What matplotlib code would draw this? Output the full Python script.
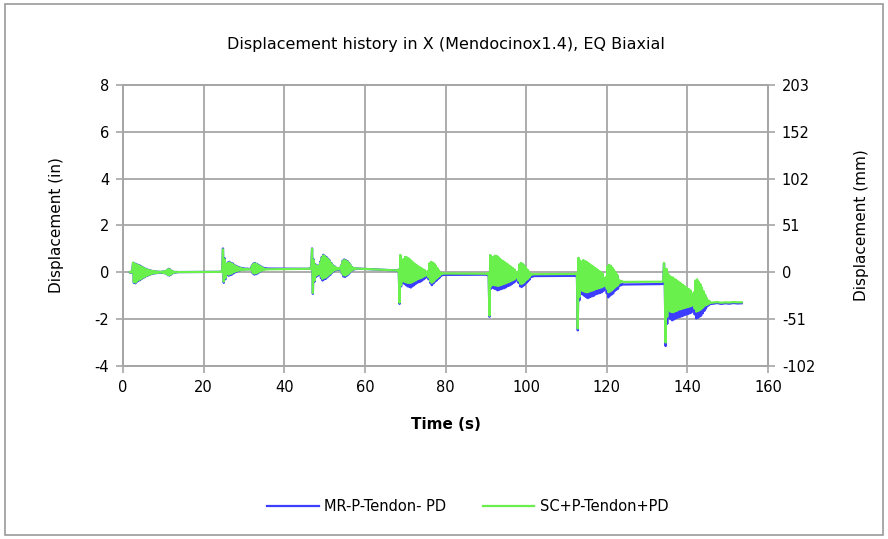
import matplotlib
matplotlib.use("Agg")
import matplotlib.pyplot as plt
from matplotlib.patches import Rectangle

# ---------------- data ----------------
title = "Displacement history in X (Mendocinox1.4), EQ Biaxial"
xlabel = "Time (s)"
ylabel_left = "Displacement (in)"
ylabel_right = "Displacement (mm)"
series_names = ["MR-P-Tendon- PD", "SC+P-Tendon+PD"]

x_ticks = [0, 20, 40, 60, 80, 100, 120, 140, 160]
y_ticks_in = [-4, -2, 0, 2, 4, 6, 8]
y_ticks_mm = [-101.6, -50.8, 0.0, 50.8, 101.6, 152.4, 203.2]
y_ticklabels_mm = ["-102", "-51", "0", "51", "102", "152", "203"]

# start time (s) of each of the seven shake events
event_start = [1.7, 24.0, 46.1, 67.8, 90.1, 112.0, 133.8]

# sample times (s) relative to event start
sample_dt = [0.0, 0.2, 0.4, 0.6, 0.8, 1.0, 1.2, 1.4, 1.6, 1.8, 2.0, 2.2, 2.4, 2.6,
             2.8, 3.0, 3.2, 3.4, 3.6, 3.8, 4.0, 4.2, 4.4, 4.6, 4.8, 5.0, 5.2, 5.4,
             5.6, 5.8, 6.0, 6.2, 6.4, 6.6, 6.8, 7.0, 7.2, 7.4, 7.6, 7.8, 8.0, 8.2,
             8.4, 8.6, 8.8, 9.0, 9.2, 9.4, 9.6, 9.8, 10.0, 10.2, 10.4, 10.6, 10.8,
             11.0, 11.2, 11.4, 11.6, 11.8, 12.0]

# ---- MR-P-Tendon- PD (blue), inches ----
mr_ev1 = [0.00, 0.02, -0.02, 0.05,
          0.40, -0.45, 0.38, -0.47,
          0.36, -0.40, 0.32, -0.36, 0.30, -0.33, 0.26, -0.28, 0.22, -0.24, 0.18, -0.20, 0.15,
          -0.16, 0.12, -0.13, 0.10, -0.10, 0.08, -0.08, 0.06, -0.06, 0.05, -0.05, 0.04, -0.04, 0.03, -0.03, 0.03,
          -0.02, 0.02, -0.02,
          0.03, -0.03, 0.04, -0.04, 0.05, -0.06, 0.10, -0.12, 0.15, -0.14, 0.12, -0.10, 0.06, -0.05, 0.03,
          -0.02, 0.02, -0.01, 0.02, 0.00, 0.01]
mr_ev2 = [0.02, 0.03, 0.02, 0.05,
          1.02, -0.45, 0.60, -0.30,
          0.35, -0.10, 0.42, -0.15, 0.45, -0.12, 0.40, -0.10, 0.38, -0.05, 0.32, 0.00, 0.28,
          0.02, 0.25, 0.05, 0.22, 0.08, 0.20, 0.10, 0.18, 0.12, 0.17, 0.12, 0.16, 0.13, 0.16, 0.13, 0.15,
          0.13, 0.16, 0.12,
          0.30, -0.05, 0.38, -0.10, 0.40, -0.08, 0.36, -0.05, 0.32, 0.00, 0.28, 0.05, 0.24, 0.08, 0.20,
          0.12, 0.18, 0.14, 0.17, 0.15, 0.16]
mr_ev3 = [0.15, 0.17, 0.14, 0.18,
          1.02, -0.92, 0.55, -0.40,
          0.35, -0.20, 0.30, -0.15, 0.28, -0.10, 0.45, -0.25, 0.65, -0.35, 0.75, -0.30, 0.70,
          -0.28, 0.65, -0.22, 0.58, -0.15, 0.50, -0.10, 0.40, -0.02, 0.30, 0.05, 0.25, 0.08, 0.20, 0.10, 0.18,
          0.10, 0.16, 0.12,
          0.30, -0.05, 0.50, -0.18, 0.55, -0.20, 0.52, -0.15, 0.48, -0.10, 0.40, -0.02, 0.30, 0.05, 0.22,
          0.10, 0.18, 0.13, 0.17, 0.14, 0.16]
mr_ev4 = [0.08, 0.10, 0.06, 0.12,
          -1.35, 0.72, -0.60, 0.50,
          -0.45, 0.55, -0.50, 0.65, -0.55, 0.62, -0.60, 0.58, -0.62, 0.52, -0.65, 0.45, -0.60,
          0.38, -0.55, 0.32, -0.50, 0.28, -0.45, 0.22, -0.42, 0.18, -0.40, 0.15, -0.35, 0.10, -0.30, 0.08, -0.25,
          0.00, -0.20, 0.05,
          -0.30, 0.35, -0.45, 0.43, -0.55, 0.40, -0.48, 0.35, -0.40, 0.25, -0.35, 0.15, -0.28, 0.05, -0.22,
          -0.05, -0.15, -0.08, -0.12, -0.09, -0.11]
mr_ev5 = [-0.10, -0.08, -0.12, -0.06,
          -1.90, 0.72, -0.70, 0.60,
          -0.65, 0.65, -0.70, 0.70, -0.72, 0.68, -0.77, 0.62, -0.75, 0.55, -0.72, 0.50, -0.70,
          0.45, -0.68, 0.40, -0.65, 0.35, -0.60, 0.30, -0.58, 0.25, -0.55, 0.20, -0.50, 0.15, -0.45, 0.10, -0.40,
          -0.05, -0.30, -0.02,
          -0.45, 0.30, -0.60, 0.38, -0.63, 0.35, -0.58, 0.28, -0.52, 0.20, -0.45, 0.10, -0.38, 0.00, -0.30,
          -0.12, -0.20, -0.14, -0.18, -0.15, -0.16]
mr_ev6 = [-0.15, -0.13, -0.17, -0.12,
          -2.48, 0.60, -1.20, 0.45,
          -0.90, 0.40, -0.95, 0.50, -1.00, 0.45, -1.05, 0.42, -1.10, 0.35, -1.08, 0.30, -1.05,
          0.25, -1.02, 0.20, -1.00, 0.15, -0.95, 0.10, -0.92, 0.05, -0.90, 0.00, -0.88, -0.05, -0.85, -0.10, -0.80,
          -0.30, -0.70, -0.25,
          -0.90, 0.20, -1.07, 0.30, -1.00, 0.25, -0.95, 0.15, -0.90, 0.05, -0.80, -0.05, -0.75, -0.15, -0.70,
          -0.40, -0.58, -0.45, -0.55, -0.48, -0.52]
mr_ev7 = [-0.50, -0.48, 0.38, -0.60,
          -3.15, 0.10, -2.20, -0.10,
          -1.90, -0.20, -2.00, -0.25, -2.05, -0.30, -2.02, -0.35, -1.98, -0.40, -1.95, -0.45, -1.92,
          -0.50, -1.90, -0.55, -1.88, -0.60, -1.85, -0.65, -1.82, -0.70, -1.80, -0.75, -1.78, -0.80, -1.75, -0.85, -1.72,
          -1.00, -1.60, -0.90,
          -1.80, -0.40, -1.97, -0.35, -1.95, -0.45, -1.90, -0.55, -1.85, -0.70, -1.75, -0.85, -1.65, -1.00, -1.55,
          -1.15, -1.45, -1.25, -1.40, -1.30, -1.35]

# ---- SC+P-Tendon+PD (green), inches ----
sc_ev1 = [0.01, 0.03, -0.01, 0.05,
          0.42, -0.42, 0.36, -0.44,
          0.34, -0.37, 0.31, -0.33, 0.28, -0.30, 0.24, -0.26, 0.21, -0.22, 0.17, -0.18, 0.14,
          -0.14, 0.11, -0.12, 0.09, -0.09, 0.07, -0.07, 0.06, -0.05, 0.05, -0.04, 0.04, -0.03, 0.03, -0.02, 0.03,
          -0.01, 0.02, -0.01,
          0.03, -0.02, 0.04, -0.03, 0.05, -0.05, 0.10, -0.11, 0.14, -0.12, 0.11, -0.09, 0.06, -0.04, 0.03,
          -0.01, 0.02, 0.00, 0.02, 0.01, 0.01]
sc_ev2 = [0.02, 0.03, 0.01, 0.04,
          0.98, -0.40, 0.55, -0.25,
          0.33, -0.05, 0.40, -0.10, 0.42, -0.07, 0.38, -0.05, 0.35, 0.00, 0.30, 0.03, 0.26,
          0.05, 0.23, 0.07, 0.20, 0.09, 0.18, 0.10, 0.16, 0.11, 0.15, 0.11, 0.14, 0.12, 0.14, 0.12, 0.13,
          0.12, 0.14, 0.11,
          0.28, -0.02, 0.36, -0.06, 0.38, -0.04, 0.34, -0.02, 0.30, 0.03, 0.26, 0.06, 0.22, 0.08, 0.18,
          0.11, 0.15, 0.12, 0.14, 0.12, 0.13]
sc_ev3 = [0.15, 0.16, 0.14, 0.17,
          1.00, -0.88, 0.52, -0.35,
          0.33, -0.15, 0.28, -0.10, 0.26, -0.06, 0.42, -0.18, 0.62, -0.28, 0.72, -0.24, 0.68,
          -0.22, 0.62, -0.17, 0.56, -0.10, 0.48, -0.06, 0.38, 0.01, 0.29, 0.07, 0.24, 0.10, 0.20, 0.12, 0.18,
          0.12, 0.17, 0.13,
          0.28, -0.02, 0.48, -0.12, 0.53, -0.14, 0.50, -0.10, 0.46, -0.06, 0.38, 0.01, 0.29, 0.07, 0.21,
          0.12, 0.18, 0.14, 0.17, 0.15, 0.16]
sc_ev4 = [0.08, 0.10, 0.07, 0.11,
          -1.30, 0.74, -0.55, 0.52,
          -0.38, 0.57, -0.40, 0.66, -0.43, 0.64, -0.45, 0.60, -0.45, 0.55, -0.45, 0.48, -0.42,
          0.42, -0.38, 0.36, -0.35, 0.32, -0.30, 0.26, -0.28, 0.22, -0.25, 0.18, -0.22, 0.13, -0.18, 0.10, -0.15,
          0.02, -0.12, 0.05,
          -0.22, 0.38, -0.38, 0.44, -0.45, 0.42, -0.40, 0.37, -0.32, 0.28, -0.26, 0.18, -0.20, 0.08, -0.15,
          -0.02, -0.08, -0.04, -0.06, -0.05, -0.05]
sc_ev5 = [-0.06, -0.04, -0.08, -0.03,
          -1.85, 0.74, -0.60, 0.62,
          -0.52, 0.67, -0.55, 0.71, -0.56, 0.70, -0.58, 0.65, -0.57, 0.58, -0.55, 0.52, -0.52,
          0.48, -0.50, 0.43, -0.47, 0.38, -0.44, 0.33, -0.42, 0.28, -0.38, 0.23, -0.35, 0.18, -0.32, 0.13, -0.28,
          0.00, -0.20, 0.02,
          -0.35, 0.33, -0.48, 0.40, -0.50, 0.37, -0.46, 0.30, -0.40, 0.22, -0.33, 0.12, -0.27, 0.03, -0.20,
          -0.06, -0.10, -0.07, -0.09, -0.07, -0.08]
sc_ev6 = [-0.07, -0.05, -0.09, -0.05,
          -2.40, 0.62, -1.05, 0.50,
          -0.75, 0.45, -0.80, 0.52, -0.82, 0.48, -0.85, 0.45, -0.85, 0.40, -0.83, 0.35, -0.80,
          0.30, -0.78, 0.25, -0.76, 0.20, -0.72, 0.15, -0.70, 0.10, -0.68, 0.05, -0.66, 0.00, -0.64, -0.05, -0.60,
          -0.25, -0.55, -0.20,
          -0.70, 0.25, -0.85, 0.32, -0.82, 0.28, -0.78, 0.20, -0.72, 0.10, -0.65, 0.00, -0.60, -0.10, -0.55,
          -0.32, -0.45, -0.36, -0.43, -0.38, -0.41]
sc_ev7 = [-0.40, -0.38, 0.40, -0.50,
          -3.00, 0.15, -1.90, -0.05,
          -1.60, -0.15, -1.68, -0.20, -1.70, -0.22, -1.70, -0.28, -1.66, -0.32, -1.64, -0.38, -1.60,
          -0.42, -1.58, -0.48, -1.56, -0.52, -1.54, -0.58, -1.52, -0.62, -1.50, -0.68, -1.48, -0.72, -1.46, -0.78, -1.44,
          -0.95, -1.40, -0.85,
          -1.55, -0.35, -1.68, -0.30, -1.66, -0.40, -1.62, -0.50, -1.58, -0.65, -1.52, -0.80, -1.45, -0.95, -1.40,
          -1.10, -1.38, -1.20, -1.34, -1.25, -1.30]

# tail after the last event (absolute times, s)
tail_t = [146.4, 147.4, 148.4, 149.4, 150.4, 151.4, 152.4, 153.5]
mr_tail = [-1.34, -1.31, -1.35, -1.32, -1.34, -1.31, -1.33, -1.32]
sc_tail = [-1.29, -1.27, -1.30, -1.28, -1.29, -1.27, -1.28, -1.28]

mr_events = [mr_ev1, mr_ev2, mr_ev3, mr_ev4, mr_ev5, mr_ev6, mr_ev7]
sc_events = [sc_ev1, sc_ev2, sc_ev3, sc_ev4, sc_ev5, sc_ev6, sc_ev7]

# assemble the time histories
t_all, mr_all, sc_all = [], [], []
for t0, mr, sc in zip(event_start, mr_events, sc_events):
    t_all += [t0 + d for d in sample_dt]
    mr_all += mr
    sc_all += sc
t_all += tail_t
mr_all += mr_tail
sc_all += sc_tail

# ---------------- figure ----------------
plt.rcParams['font.family'] = ['DejaVu Sans']
plt.rcParams['axes.unicode_minus'] = False
fig = plt.figure(figsize=(8.88, 5.39), dpi=100)
fig.patch.set_facecolor('white')
fig.add_artist(Rectangle((0.006, 0.008), 0.988, 0.984, transform=fig.transFigure,
                         fill=False, edgecolor='#9a9a9a', linewidth=1.2))

ax = fig.add_axes([0.1385, 0.321, 0.7264, 0.5213])
blue = '#3d3dff'
green = '#6af04c'
ax.plot(t_all, mr_all, color=blue, linewidth=1.6, label=series_names[0], zorder=3)
ax.plot(t_all, sc_all, color=green, linewidth=1.6, label=series_names[1], zorder=4)

ax.set_xlim(0, 160)
ax.set_ylim(-4, 8)
ax.set_xticks(x_ticks)
ax.set_yticks(y_ticks_in)
ax.grid(True, color='#a6a6a6', linewidth=1.3)
ax.set_axisbelow(True)
for s in ax.spines.values():
    s.set_color('#a6a6a6')
    s.set_linewidth(1.3)
ax.tick_params(axis='both', direction='out', length=5, width=1.2, color='#a6a6a6',
               labelsize=10.5, labelcolor='black', pad=5)

ax.set_title(title, fontsize=11.5, pad=26)
ax.set_xlabel(xlabel, fontsize=11, fontweight='bold', labelpad=16)
ax.set_ylabel(ylabel_left, fontsize=11, labelpad=22)

ax2 = ax.twinx()
ax2.set_ylim(-4 * 25.4, 8 * 25.4)
ax2.set_yticks(y_ticks_mm)
ax2.set_yticklabels(y_ticklabels_mm)
for s in ax2.spines.values():
    s.set_color('#a6a6a6')
    s.set_linewidth(1.3)
ax2.tick_params(axis='y', direction='out', length=5, width=1.2, color='#a6a6a6',
                labelsize=10.5, labelcolor='black', pad=5)
ax2.set_ylabel(ylabel_right, fontsize=11, labelpad=28)

handles, labels = ax.get_legend_handles_labels()
fig.legend(handles, labels, loc='center', bbox_to_anchor=(0.527, 0.06), ncol=2,
           frameon=False, fontsize=10.5, handlelength=3.5, columnspacing=2.5,
           handletextpad=0.4)

fig.savefig('out.png', dpi=100, facecolor='white')
